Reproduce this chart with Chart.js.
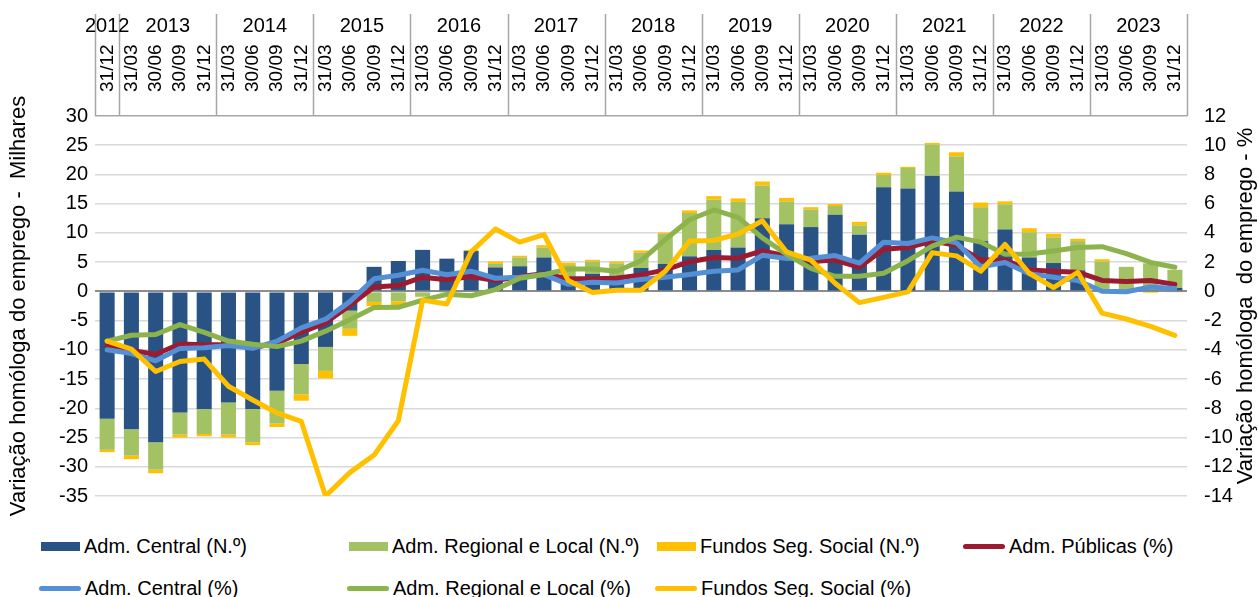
<!DOCTYPE html>
<html>
<head>
<meta charset="utf-8">
<script src="https://cdn.jsdelivr.net/npm/chart.js@4.4.1/dist/chart.umd.min.js"></script>
<style>
  body { margin: 0; background: #fff; font-family: "Liberation Sans", Arial, sans-serif; }
  #wrap { width: 1258px; height: 597px; position: relative; }
  #legend {
    position: absolute; left: 41px; top: 525px;
    display: grid; grid-template-columns: repeat(4, 308px); grid-auto-rows: 42px;
    font-size: 20px; color: #000;
  }
  .item { display: flex; align-items: center; white-space: pre; }
  .mark { display: inline-block; margin-right: 4px; }
</style>
</head>
<body>
<div id="wrap">
  <canvas id="myChart" width="1258" height="525"></canvas>
  <div id="legend"></div>
</div>
<script>
const years = ["2012", "2013", "2014", "2015", "2016", "2017", "2018", "2019", "2020", "2021", "2022", "2023"];
const quarterNames = ["31/03", "30/06", "30/09", "31/12"];

// milhares
const centralN = [-21.8, -23.6, -25.8, -20.7, -20.1, -19.0, -20.1, -17.0, -12.4, -9.5, -3.3, 4.2, 5.2, 7.1, 5.6, 6.9, 4.1, 4.3, 5.8, 2.3, 3.0, 2.7, 4.0, 4.7, 6.0, 7.1, 7.5, 12.5, 11.5, 11.0, 13.1, 9.7, 17.8, 17.6, 19.8, 17.1, 8.6, 10.6, 5.8, 4.85, 3.6, 0.3, 0.1, 0.1, 0.6];
const regionalN = [-5.3, -4.5, -4.7, -3.8, -4.3, -5.5, -5.7, -5.6, -5.2, -4.1, -3.1, -1.8, -1.7, -0.9, -0.1, 0, 0.6, 1.5, 1.7, 2.2, 2.1, 2.1, 2.6, 5.1, 7.4, 8.6, 7.8, 5.6, 3.9, 3.0, 1.5, 1.6, 2.1, 3.5, 5.3, 6.0, 5.8, 4.3, 4.3, 4.4, 5.0, 4.8, 4.1, 4.7, 3.1];
const fundosN = [-0.4, -0.6, -0.6, -0.5, -0.4, -0.5, -0.5, -0.6, -1.1, -1.3, -1.2, -0.7, -0.7, -0.1, 0, 0.2, 0.4, 0.3, 0.4, 0.4, 0.3, 0.3, 0.4, 0.25, 0.45, 0.6, 0.6, 0.7, 0.6, 0.4, 0.35, 0.6, 0.4, 0.2, 0.3, 0.7, 0.8, 0.5, 0.7, 0.6, 0.4, 0.4, -0.1, -0.3, -0.2];

// %
const publicasPct = [-3.7, -4.05, -4.3, -3.6, -3.65, -3.65, -3.85, -3.55, -2.8, -2.15, -0.97, 0.3, 0.4, 0.97, 0.8, 1.02, 0.75, 1.02, 1.2, 0.86, 0.86, 0.9, 1.13, 1.47, 2.03, 2.32, 2.27, 2.77, 2.43, 2.05, 2.14, 1.65, 2.88, 3.0, 3.44, 3.15, 2.14, 2.14, 1.47, 1.38, 1.31, 0.75, 0.68, 0.75, 0.48];
const centralPct = [-4.0, -4.25, -4.75, -3.9, -3.85, -3.7, -3.9, -3.4, -2.5, -1.9, -0.7, 0.86, 1.1, 1.45, 1.14, 1.38, 0.9, 0.97, 1.15, 0.48, 0.62, 0.57, 0.82, 0.97, 1.15, 1.38, 1.47, 2.47, 2.25, 2.27, 2.45, 1.94, 3.37, 3.28, 3.66, 3.33, 1.69, 1.98, 1.2, 0.97, 0.75, 0.01, -0.03, 0.3, 0.19];
const regionalPct = [-3.4, -3.0, -2.95, -2.27, -2.8, -3.4, -3.62, -3.78, -3.4, -2.72, -1.94, -1.1, -1.09, -0.6, -0.2, -0.3, 0.12, 0.9, 1.15, 1.53, 1.53, 1.38, 2.1, 3.55, 4.9, 5.57, 5.07, 3.66, 2.54, 1.58, 1.03, 1.04, 1.24, 2.1, 3.1, 3.71, 3.37, 2.54, 2.56, 2.77, 3.0, 3.06, 2.59, 1.98, 1.65];
const fundosPct = [-3.4, -3.95, -5.48, -4.8, -4.63, -6.49, -7.43, -8.32, -8.9, -14.0, -12.4, -11.2, -8.85, -0.6, -0.86, 2.7, 4.27, 3.37, 3.89, 0.75, -0.08, 0.08, 0.08, 1.38, 3.44, 3.48, 3.93, 4.83, 2.7, 2.14, 0.56, -0.77, -0.41, -0.03, 2.65, 2.43, 1.38, 3.21, 1.24, 0.26, 1.31, -1.49, -1.89, -2.39, -3.01];

// 2012 only has the last quarter
const labels = [];
const yearSpans = [];
years.forEach((y, i) => {
  const qs = i === 0 ? ["31/12"] : quarterNames;
  yearSpans.push({ year: y, start: labels.length, end: labels.length + qs.length - 1 });
  qs.forEach(q => labels.push(q));
});

const font = "'Liberation Sans', Arial, sans-serif";

const barSet = (label, data, color, order) => ({
  type: "bar", label, data, backgroundColor: color, yAxisID: "y", order,
  barPercentage: 1, categoryPercentage: 0.62
});
const lineSet = (label, data, color, order) => ({
  type: "line", label, data, borderColor: color, backgroundColor: color, yAxisID: "y1", order,
  borderWidth: 5, pointRadius: 0, tension: 0, borderJoinStyle: "round", borderCapStyle: "round"
});

const datasets = [
  barSet("Adm. Central (N.º)", centralN, "#2a5385", 10),
  barSet("Adm. Regional e Local (N.º)", regionalN, "#a3c264", 11),
  barSet("Fundos Seg. Social (N.º)", fundosN, "#ffc000", 12),
  lineSet("Adm. Públicas (%)", publicasPct, "#9b1c31", 3),
  lineSet("Adm. Central (%)", centralPct, "#5590d6", 2),
  lineSet("Adm. Regional e Local (%)", regionalPct, "#8db44c", 1),
  lineSet("Fundos Seg. Social (%)", fundosPct, "#ffc000", 0)
];

const header = {
  id: "header",
  afterDraw(chart) {
    const ctx = chart.ctx;
    const x = chart.scales.x;
    const area = chart.chartArea;
    const step = x.getPixelForValue(1) - x.getPixelForValue(0);
    ctx.save();
    ctx.strokeStyle = "#a6a6a6";
    ctx.lineWidth = 1.5;
    const edges = [yearSpans[0].start].concat(yearSpans.map(s => s.end + 1));
    edges.forEach(k => {
      const px = Math.round(x.getPixelForValue(0) - step / 2 + k * step) + 0.5;
      ctx.beginPath();
      ctx.moveTo(px, 14);
      ctx.lineTo(px, area.top);
      ctx.stroke();
    });
    ctx.fillStyle = "#000";
    ctx.font = "20px " + font;
    ctx.textAlign = "center";
    ctx.textBaseline = "middle";
    yearSpans.forEach(s => {
      const cx = (x.getPixelForValue(s.start) + x.getPixelForValue(s.end)) / 2;
      ctx.fillText(s.year, cx, 26);
    });
    // right axis title reads bottom to top
    ctx.font = "22px " + font;
    ctx.translate(1246, (area.top + area.bottom) / 2);
    ctx.rotate(-Math.PI / 2);
    ctx.fillText("Variação homóloga  do emprego - %", 0, 0);
    ctx.restore();
  }
};

const ctx = document.getElementById("myChart").getContext("2d");
const myChart = new Chart(ctx, {
  data: { labels, datasets },
  plugins: [header],
  options: {
    responsive: false,
    animation: false,
    devicePixelRatio: 1,
    layout: { padding: { top: 0, bottom: 22, left: 0, right: 0 } },
    plugins: { legend: { display: false }, tooltip: { enabled: false } },
    scales: {
      x: {
        position: "top",
        stacked: true,
        grid: { display: false },
        border: { display: false },
        ticks: {
          color: "#000", font: { size: 19, family: font },
          minRotation: 90, maxRotation: 90, autoSkip: false, padding: 16, labelOffset: 23
        },
        afterFit(scale) { scale.height = 116; }
      },
      y: {
        position: "left",
        stacked: true,
        min: -35, max: 30,
        ticks: { stepSize: 5, color: "#000", font: { size: 20, family: font }, padding: 7 },
        grid: {
          drawTicks: false,
          color: c => c.tick.value === 0 ? "#8c8c8c" : (c.tick.value === 30 ? "#a6a6a6" : "#d9d9d9"),
          lineWidth: c => c.tick.value === 0 ? 2 : 1.5
        },
        border: { display: false },
        title: {
          display: true, text: "Variação homóloga do emprego -  Milhares",
          color: "#000", font: { size: 22, family: font }, padding: { top: 6, bottom: 0 }
        },
        afterFit(scale) { scale.width = 95; }
      },
      y1: {
        position: "right",
        min: -14, max: 12,
        ticks: { stepSize: 2, color: "#000", font: { size: 20, family: font }, padding: 17 },
        grid: { display: false, drawTicks: false },
        border: { display: false },
        afterFit(scale) { scale.width = 71; }
      }
    }
  }
});

// legend laid out in a 4 column grid like the original
const legendBox = document.getElementById("legend");
datasets.forEach(ds => {
  const item = document.createElement("div");
  item.className = "item";
  const mark = document.createElement("span");
  mark.className = "mark";
  if (ds.type === "bar") {
    mark.style.cssText = "width:39px;height:9px;background:" + ds.backgroundColor;
  } else {
    mark.style.cssText = "width:42px;height:5px;margin-left:-2px;border-radius:3px;background:" + ds.borderColor;
  }
  item.appendChild(mark);
  item.appendChild(document.createTextNode(ds.label));
  legendBox.appendChild(item);
});
</script>
</body>
</html>
